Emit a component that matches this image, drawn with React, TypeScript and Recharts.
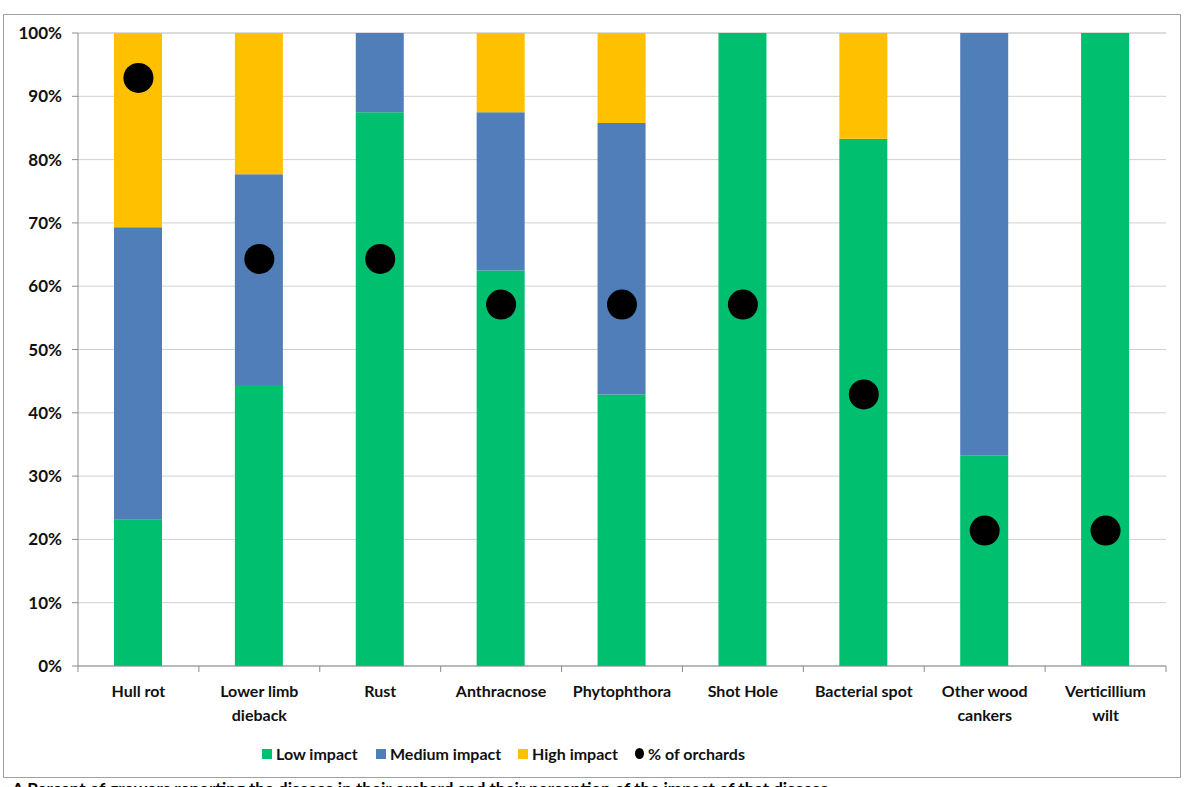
import React from "react";
import { ComposedChart, Bar, Scatter, XAxis, YAxis, CartesianGrid, Legend } from "recharts";

const categories = [
  "Hull rot",
  "Lower limb\ndieback",
  "Rust",
  "Anthracnose",
  "Phytophthora",
  "Shot Hole",
  "Bacterial spot",
  "Other wood\ncankers",
  "Verticillium\nwilt",
];
const lowImpact = [23.1, 44.4, 87.5, 62.5, 42.9, 100, 83.3, 33.3, 100];
const mediumImpact = [46.2, 33.3, 12.5, 25.0, 42.9, 0, 0, 66.7, 0];
const highImpact = [30.7, 22.3, 0, 12.5, 14.2, 0, 16.7, 0, 0];
const pctOrchards = [92.9, 64.3, 64.3, 57.1, 57.1, 57.1, 42.9, 21.4, 21.4];
const yTicks = [0, 10, 20, 30, 40, 50, 60, 70, 80, 90, 100];

const seriesNames = ["Low impact", "Medium impact", "High impact", "% of orchards"];
const colors = { low: "#00BF6F", medium: "#4F7EB8", high: "#FFC000", dot: "#000000" };

const data = categories.map((c, i) => ({
  name: c,
  low: lowImpact[i],
  medium: mediumImpact[i],
  high: highImpact[i],
  orchards: pctOrchards[i],
}));

const W = 1184;
const H = 787;
const PLOT_LEFT = 78;
const PLOT_RIGHT = 1166;
const PLOT_TOP = 33;
const PLOT_BOTTOM = 666;
const BAND = (PLOT_RIGHT - PLOT_LEFT) / categories.length;
const FONT = "Lato, 'Open Sans', sans-serif";
const AXIS_COLOR = "#8c8c8c";

const XTick = (props: any) => {
  const { x, y, payload, index } = props;
  const lines = String(payload.value).split("\n");
  return (
    <g>
      <line x1={x - BAND / 2} x2={x - BAND / 2} y1={y} y2={y + 6} stroke={AXIS_COLOR} strokeWidth={1} />
      {index === categories.length - 1 && (
        <line x1={x + BAND / 2} x2={x + BAND / 2} y1={y} y2={y + 6} stroke={AXIS_COLOR} strokeWidth={1} />
      )}
      <text x={x} y={y} textAnchor="middle" fontFamily={FONT} fontWeight={700} fontSize={16} fill="#111">
        {lines.map((l, i) => (
          <tspan key={i} x={x} dy={i === 0 ? 31 : 24}>
            {l}
          </tspan>
        ))}
      </text>
    </g>
  );
};

const legendColors = [colors.low, colors.medium, colors.high, colors.dot];
const legendOffsets = [262, 376, 518, 635];

const LegendContent = () => (
  <div style={{ position: "relative", width: W, height: 40, fontFamily: FONT, fontWeight: 700, fontSize: 16, color: "#111" }}>
    {seriesNames.map((n, i) => (
      <div
        key={n}
        style={{ position: "absolute", left: legendOffsets[i], top: 10, display: "flex", alignItems: "center", whiteSpace: "nowrap" }}
      >
        <span
          style={{
            display: "inline-block",
            width: i === 3 ? 9 : 10,
            height: i === 3 ? 11 : 10,
            background: legendColors[i],
            borderRadius: i === 3 ? "50%" : 0,
            marginRight: 4,
          }}
        />
        <span>{n}</span>
      </div>
    ))}
  </div>
);

const Dot = (props: any) => {
  const { cx, cy } = props;
  if (cx == null || cy == null) return null;
  return <circle cx={cx} cy={cy} r={15} fill={colors.dot} />;
};

export default function App() {
  return (
    <div style={{ position: "relative", width: W, height: H, overflow: "hidden", background: "#fff" }}>
      <style>{"body{margin:0}"}</style>
      <div
        style={{
          position: "absolute",
          left: 3,
          top: 14,
          width: 1176,
          height: 762,
          border: "1px solid #a0a0a0",
        }}
      />
      <div style={{ position: "absolute", left: 0, top: 0 }}>
        <ComposedChart
          width={W}
          height={H}
          data={data}
          barCategoryGap={0}
          margin={{ top: PLOT_TOP, right: W - PLOT_RIGHT, bottom: 12, left: 0 }}
        >
          <CartesianGrid vertical={false} stroke="#d0d0d0" strokeWidth={1} />
          <XAxis
            dataKey="name"
            type="category"
            interval={0}
            height={H - PLOT_BOTTOM - 12 - 41}
            tickLine={false}
            tickSize={0}
            tickMargin={0}
            axisLine={{ stroke: AXIS_COLOR }}
            tick={<XTick />}
          />
          <YAxis
            type="number"
            domain={[0, 100]}
            ticks={yTicks}
            width={PLOT_LEFT}
            tickFormatter={(v: number) => `${v}%`}
            tickSize={6}
            tickMargin={10}
            tickLine={{ stroke: AXIS_COLOR }}
            axisLine={{ stroke: AXIS_COLOR }}
            tick={{ fontFamily: FONT, fontWeight: 700, fontSize: 17, fill: "#111" }}
          />
          <Legend verticalAlign="bottom" height={41} content={<LegendContent />} wrapperStyle={{ left: 0, width: W }} />
          <Bar dataKey="low" name={seriesNames[0]} stackId="a" fill={colors.low} barSize={48} isAnimationActive={false} />
          <Bar dataKey="medium" name={seriesNames[1]} stackId="a" fill={colors.medium} barSize={48} isAnimationActive={false} />
          <Bar dataKey="high" name={seriesNames[2]} stackId="a" fill={colors.high} barSize={48} isAnimationActive={false} />
          <Scatter dataKey="orchards" name={seriesNames[3]} fill={colors.dot} shape={<Dot />} isAnimationActive={false} />
        </ComposedChart>
      </div>
      <div
        style={{
          position: "absolute",
          left: 12,
          top: 778,
          fontFamily: FONT,
          fontWeight: 700,
          fontSize: 17,
          color: "#000",
          whiteSpace: "nowrap",
        }}
      >
        A Percent of growers reporting the disease in their orchard and their perception of the impact of that disease
      </div>
    </div>
  );
}
